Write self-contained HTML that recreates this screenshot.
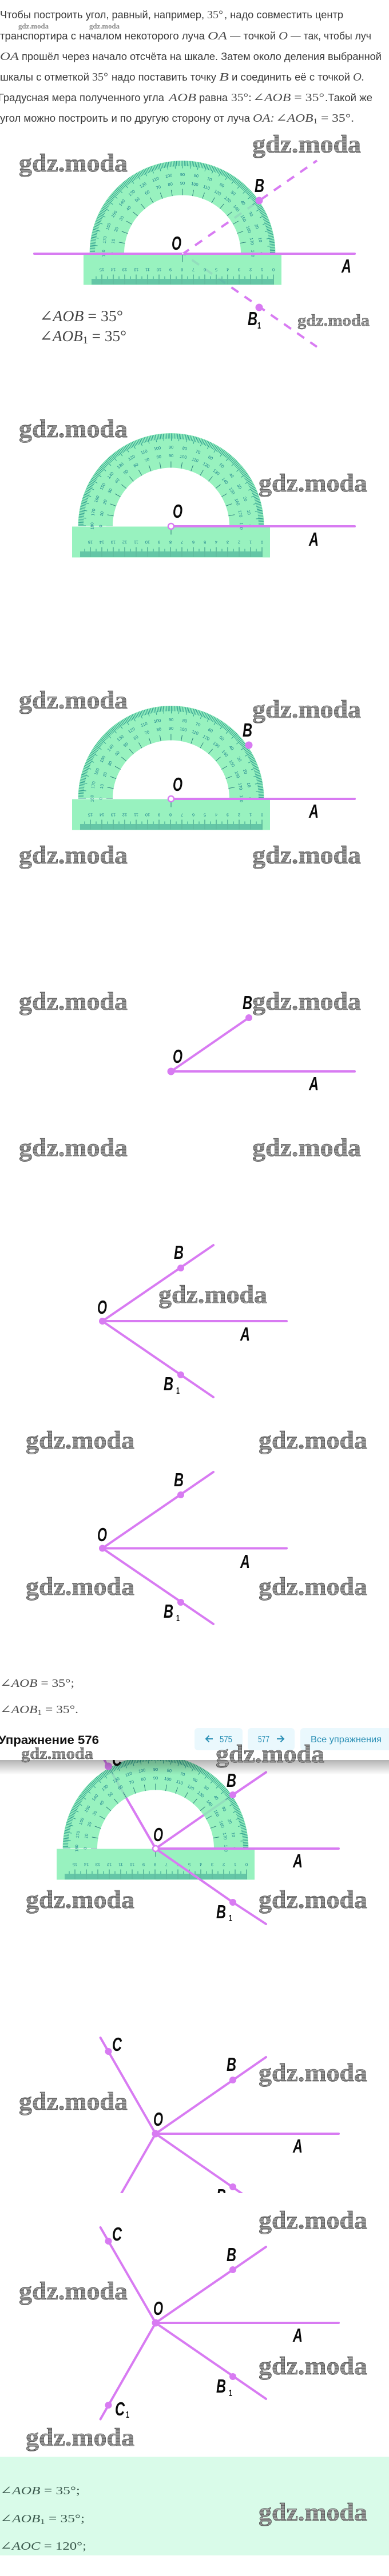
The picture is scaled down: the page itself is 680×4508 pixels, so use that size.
<!DOCTYPE html>
<html lang="ru"><head><meta charset="utf-8"><title>Упражнение 576</title>
<style>
html,body{margin:0;padding:0;background:#fff}
svg{display:block}
.s{font:18px "Liberation Sans","DejaVu Sans",sans-serif;fill:#3a3a3a}
.m{font:20px "Liberation Serif","DejaVu Serif",serif;fill:#4a4a4a}
.e{font:27px "Liberation Serif","DejaVu Serif",serif;fill:#444}
.g{fill:#3c5a4e}
.i{font-style:italic}
.l{font:italic bold 33px "Liberation Sans",sans-serif;fill:#0a0a0a}
.u{font:bold 16px "Liberation Sans",sans-serif;fill:#111}
.w{font:bold 44px "Liberation Serif",serif;fill:url(#h);stroke:#333;stroke-width:.5}
.w2{font:bold 29px "Liberation Serif",serif;fill:url(#h);stroke:#333;stroke-width:.4}
.w3{font:bold 12.5px "Liberation Serif",serif;fill:#8c8c8c}
.n text{font:7.5px "Liberation Sans",sans-serif;fill:#1b7f8c;text-anchor:middle}
.r{stroke:#d87bf2;stroke-width:4;fill:none;stroke-linecap:round}
.d{fill:#d87bf2}
.t{font:16px "Liberation Sans",sans-serif;fill:#2a8fb5}
.a{stroke:#2a8fb5;stroke-width:2;fill:none}
</style></head><body>
<svg xmlns="http://www.w3.org/2000/svg" width="680" height="4508" viewBox="0 0 680 4508">
<defs>
<pattern id="h" width="2" height="1.6" patternUnits="userSpaceOnUse"><rect width="2" height="1.6" fill="#bdbdbd"/><rect width="2" height=".7" fill="#4a4a4a"/></pattern>
<linearGradient id="sh" x1="0" y1="0" x2="0" y2="1"><stop offset="0" stop-color="#000" stop-opacity=".3"/><stop offset="1" stop-color="#000" stop-opacity="0"/></linearGradient>
<clipPath id="c7"><rect x="0" y="3500" width="680" height="338"/></clipPath>
<g id="p">
<path d="M-162.5 0A162.5 162.5 0 0 1 162.5 0L102 0A102 102 0 0 0 -102 0Z" fill="#86f0b4" fill-opacity=".85"/>
<rect x="-173" y="1" width="346" height="54" fill="#86f0b4" fill-opacity=".85"/>
<path d="M-157.5 0A157.5 157.5 0 0 1 157.5 0" pathLength="180" fill="none" stroke="#2e9e8f" stroke-width="9" stroke-dasharray=".38 .62"/>
<path d="M-155.5 0A155.5 155.5 0 0 1 155.5 0" pathLength="180" fill="none" stroke="#2e9e8f" stroke-width="13" stroke-dasharray=".38 4.62"/>
<path d="M-107.5 0A107.5 107.5 0 0 1 107.5 0" pathLength="180" fill="none" stroke="#2a7a7a" stroke-width="11" stroke-dasharray=".5 9.5" stroke-dashoffset=".25"/>
<path d="M159.5 49.5H-159" stroke="#2f9a8e" stroke-width="10" stroke-dasharray="1 1" fill="none"/>
<path d="M159.5 47H-159" stroke="#2f9a8e" stroke-width="14" stroke-dasharray="1 9" fill="none"/>
<path d="M159.5 45.5H-159" stroke="#2a8a80" stroke-width="17" stroke-dasharray="1 19" fill="none"/>
<path d="M0 1V15" stroke="#2a7a7a" stroke-width="1"/>
<g class="n">
<text transform="rotate(90) translate(0,-135.5)">0</text><text transform="rotate(80) translate(0,-135.5)">10</text><text transform="rotate(70) translate(0,-135.5)">20</text><text transform="rotate(60) translate(0,-135.5)">30</text><text transform="rotate(50) translate(0,-135.5)">40</text><text transform="rotate(40) translate(0,-135.5)">50</text><text transform="rotate(30) translate(0,-135.5)">60</text><text transform="rotate(20) translate(0,-135.5)">70</text><text transform="rotate(10) translate(0,-135.5)">80</text><text transform="translate(0,-135.5)">90</text><text transform="rotate(-10) translate(0,-135.5)">100</text><text transform="rotate(-20) translate(0,-135.5)">110</text><text transform="rotate(-30) translate(0,-135.5)">120</text><text transform="rotate(-40) translate(0,-135.5)">130</text><text transform="rotate(-50) translate(0,-135.5)">140</text><text transform="rotate(-60) translate(0,-135.5)">150</text><text transform="rotate(-70) translate(0,-135.5)">160</text><text transform="rotate(-80) translate(0,-135.5)">170</text><text transform="rotate(-90) translate(0,-135.5)">180</text>
<text transform="rotate(90) translate(0,-120.5)">180</text><text transform="rotate(80) translate(0,-120.5)">170</text><text transform="rotate(70) translate(0,-120.5)">160</text><text transform="rotate(60) translate(0,-120.5)">150</text><text transform="rotate(50) translate(0,-120.5)">140</text><text transform="rotate(40) translate(0,-120.5)">130</text><text transform="rotate(30) translate(0,-120.5)">120</text><text transform="rotate(20) translate(0,-120.5)">110</text><text transform="rotate(10) translate(0,-120.5)">100</text><text transform="translate(0,-120.5)">90</text><text transform="rotate(-10) translate(0,-120.5)">80</text><text transform="rotate(-20) translate(0,-120.5)">70</text><text transform="rotate(-30) translate(0,-120.5)">60</text><text transform="rotate(-40) translate(0,-120.5)">50</text><text transform="rotate(-50) translate(0,-120.5)">40</text><text transform="rotate(-60) translate(0,-120.5)">30</text><text transform="rotate(-70) translate(0,-120.5)">20</text><text transform="rotate(-80) translate(0,-120.5)">10</text><text transform="rotate(-90) translate(0,-120.5)">0</text>
<text transform="translate(159,26) rotate(180)">0</text><text transform="translate(139,26) rotate(180)">1</text><text transform="translate(119,26) rotate(180)">2</text><text transform="translate(99,26) rotate(180)">3</text><text transform="translate(79,26) rotate(180)">4</text><text transform="translate(59,26) rotate(180)">5</text><text transform="translate(39,26) rotate(180)">6</text><text transform="translate(19,26) rotate(180)">7</text><text transform="translate(-1,26) rotate(180)">8</text><text transform="translate(-21,26) rotate(180)">9</text><text transform="translate(-41,26) rotate(180)">10</text><text transform="translate(-61,26) rotate(180)">11</text><text transform="translate(-81,26) rotate(180)">12</text><text transform="translate(-101,26) rotate(180)">13</text><text transform="translate(-121,26) rotate(180)">14</text><text transform="translate(-141,26) rotate(180)">15</text>
</g>
</g>
</defs>

<!-- intro text -->
<g lengthAdjust="spacingAndGlyphs">
<text class="s" x="0" y="32" textLength="357" lengthAdjust="spacingAndGlyphs">Чтобы построить угол, равный, например,</text>
<text class="m" x="362" y="32" textLength="28" lengthAdjust="spacingAndGlyphs">35°</text>
<text class="s" x="392" y="32" textLength="208" lengthAdjust="spacingAndGlyphs">, надо совместить центр</text>
<text class="s" x="0" y="69" textLength="358" lengthAdjust="spacingAndGlyphs">транспортира с началом некоторого луча</text>
<text class="m i" x="363" y="69" textLength="34" lengthAdjust="spacingAndGlyphs">OA</text>
<text class="s" x="402" y="69" textLength="80" lengthAdjust="spacingAndGlyphs">— точкой</text>
<text class="m i" x="487" y="69" textLength="16" lengthAdjust="spacingAndGlyphs">O</text>
<text class="s" x="508" y="69" textLength="141" lengthAdjust="spacingAndGlyphs">— так, чтобы луч</text>
<text class="m i" x="0" y="105" textLength="33" lengthAdjust="spacingAndGlyphs">OA</text>
<text class="s" x="38" y="105" textLength="629" lengthAdjust="spacingAndGlyphs">прошёл через начало отсчёта на шкале. Затем около деления выбранной</text>
<text class="s" x="0" y="141" textLength="156" lengthAdjust="spacingAndGlyphs">шкалы с отметкой</text>
<text class="m" x="161" y="141" textLength="28" lengthAdjust="spacingAndGlyphs">35°</text>
<text class="s" x="195" y="141" textLength="183" lengthAdjust="spacingAndGlyphs">надо поставить точку</text>
<text class="m i" x="383" y="141" textLength="17" lengthAdjust="spacingAndGlyphs">B</text>
<text class="s" x="405" y="141" textLength="207" lengthAdjust="spacingAndGlyphs">и соединить её с точкой</text>
<text class="m i" x="617" y="141" textLength="20" lengthAdjust="spacingAndGlyphs">O.</text>
<text class="s" x="-3" y="177" textLength="290" lengthAdjust="spacingAndGlyphs">Градусная мера полученного угла</text>
<text class="m i" x="295" y="177" textLength="48" lengthAdjust="spacingAndGlyphs">AOB</text>
<text class="s" x="348" y="177" textLength="50" lengthAdjust="spacingAndGlyphs">равна</text>
<text class="m" x="404" y="177" textLength="36" lengthAdjust="spacingAndGlyphs">35°:</text>
<text class="m" x="442" y="177" textLength="125" lengthAdjust="spacingAndGlyphs">∠<tspan class="i">AOB</tspan> = 35°</text>
<text class="s" x="568" y="177" textLength="83" lengthAdjust="spacingAndGlyphs">.Такой же</text>
<text class="s" x="0" y="213" textLength="437" lengthAdjust="spacingAndGlyphs">угол можно построить и по другую сторону от луча</text>
<text class="m i" x="442" y="213" textLength="38" lengthAdjust="spacingAndGlyphs">OA:</text>
<text class="m" x="482" y="213" textLength="137" lengthAdjust="spacingAndGlyphs">∠<tspan class="i">AOB</tspan><tspan font-size="13" dy="3">1</tspan><tspan dy="-3"> = 35°.</tspan></text>
</g>

<!-- diagram 1 -->
<path class="r" d="M320 444L554 281" stroke-dasharray="15 13" stroke-dashoffset="2.5" style="stroke-linecap:butt"/>
<path class="r" d="M320 444L554 607" stroke-dasharray="15 13" stroke-dashoffset="-19" style="stroke-linecap:butt"/>
<use href="#p" x="319" y="443.5"/>
<path class="r" d="M60 444H620"/>
<circle class="d" cx="453" cy="351" r="6.5"/><circle class="d" cx="453" cy="538" r="6.5"/>
<circle cx="319.5" cy="444" r="1.2" fill="#fff"/>
<text class="l" x="300" y="437" textLength="17" lengthAdjust="spacingAndGlyphs">O</text>
<text class="l" x="445" y="336" textLength="17" lengthAdjust="spacingAndGlyphs">B</text>
<text class="l" x="597" y="477" textLength="17" lengthAdjust="spacingAndGlyphs">A</text>
<text class="l" x="433" y="569" textLength="17" lengthAdjust="spacingAndGlyphs">B</text>
<text class="u" x="450" y="575" textLength="6" lengthAdjust="spacingAndGlyphs">1</text>
<text class="e" x="69" y="562" textLength="146" lengthAdjust="spacingAndGlyphs">∠<tspan class="i">AOB</tspan> = 35°</text>
<text class="e" x="69" y="597" textLength="152" lengthAdjust="spacingAndGlyphs">∠<tspan class="i">AOB</tspan><tspan font-size="18" dy="4">1</tspan><tspan dy="-4"> = 35°</tspan></text>

<!-- diagram 2 -->
<use href="#p" x="299" y="920.5"/>
<path class="r" d="M299 921H620"/>
<circle cx="299" cy="921" r="5" fill="#fff" stroke="#d87bf2" stroke-width="2.5"/>
<text class="l" x="302" y="906" textLength="17" lengthAdjust="spacingAndGlyphs">O</text>
<text class="l" x="540" y="955" textLength="17" lengthAdjust="spacingAndGlyphs">A</text>

<!-- diagram 3 -->
<use href="#p" x="299" y="1397.5"/>
<path class="r" d="M299 1398H620"/>
<circle cx="299" cy="1398" r="5" fill="#fff" stroke="#d87bf2" stroke-width="2.5"/>
<circle class="d" cx="435" cy="1304" r="6.5"/>
<text class="l" x="424" y="1289" textLength="17" lengthAdjust="spacingAndGlyphs">B</text>
<text class="l" x="302" y="1384" textLength="17" lengthAdjust="spacingAndGlyphs">O</text>
<text class="l" x="540" y="1431" textLength="17" lengthAdjust="spacingAndGlyphs">A</text>

<!-- diagram 4 -->
<path class="r" d="M299 1875H620M299 1875L435 1781"/>
<circle class="d" cx="299" cy="1875" r="6.5"/><circle class="d" cx="435" cy="1781" r="6"/>
<text class="l" x="302" y="1860" textLength="17" lengthAdjust="spacingAndGlyphs">O</text>
<text class="l" x="424" y="1766" textLength="17" lengthAdjust="spacingAndGlyphs">B</text>
<text class="l" x="540" y="1908" textLength="17" lengthAdjust="spacingAndGlyphs">A</text>

<!-- diagram 5 -->
<path class="r" d="M179 2312H501M179 2312L373 2179M179 2312L373 2445"/>
<circle class="d" cx="179" cy="2312" r="6"/><circle class="d" cx="316" cy="2219" r="6"/><circle class="d" cx="316" cy="2406" r="6"/>
<text class="l" x="170" y="2299" textLength="17" lengthAdjust="spacingAndGlyphs">O</text>
<text class="l" x="304" y="2203" textLength="17" lengthAdjust="spacingAndGlyphs">B</text>
<text class="l" x="420" y="2346" textLength="17" lengthAdjust="spacingAndGlyphs">A</text>
<text class="l" x="286" y="2433" textLength="17" lengthAdjust="spacingAndGlyphs">B</text>
<text class="u" x="308" y="2439" textLength="6" lengthAdjust="spacingAndGlyphs">1</text>

<!-- diagram 6 -->
<path class="r" d="M179 2709.5H501M179 2709.5L373 2576M179 2709.5L373 2842"/>
<circle class="d" cx="179" cy="2709.5" r="6"/><circle class="d" cx="316" cy="2616" r="6"/><circle class="d" cx="316" cy="2804" r="6"/>
<text class="l" x="170" y="2697" textLength="17" lengthAdjust="spacingAndGlyphs">O</text>
<text class="l" x="304" y="2601" textLength="17" lengthAdjust="spacingAndGlyphs">B</text>
<text class="l" x="420" y="2744" textLength="17" lengthAdjust="spacingAndGlyphs">A</text>
<text class="l" x="286" y="2831" textLength="17" lengthAdjust="spacingAndGlyphs">B</text>
<text class="u" x="308" y="2837" textLength="6" lengthAdjust="spacingAndGlyphs">1</text>

<text class="m" x="0" y="2952" textLength="130" lengthAdjust="spacingAndGlyphs">∠<tspan class="i">AOB</tspan> = 35°;</text>
<text class="m" x="0" y="2998" textLength="137" lengthAdjust="spacingAndGlyphs">∠<tspan class="i">AOB</tspan><tspan font-size="13" dy="3">1</tspan><tspan dy="-3"> = 35°.</tspan></text>

<!-- diagram protractor with rays -->
<path class="r" d="M272 3235L407 3141L465 3101.5M272 3235L175.6 3068"/>
<use href="#p" x="272" y="3234.5"/>
<path class="r" d="M272 3235H592M272 3235L407 3329L465 3367"/>
<path class="r" d="M272 3235L230 3162M407 3141L465 3101.5" />
<circle cx="272" cy="3235" r="5" fill="#fff" stroke="#d87bf2" stroke-width="2.5"/>
<circle class="d" cx="407" cy="3141" r="6"/><circle class="d" cx="407" cy="3329" r="6"/><circle class="d" cx="189.5" cy="3091" r="6.5"/>
<text class="l" x="268" y="3222" textLength="17" lengthAdjust="spacingAndGlyphs">O</text>
<text class="l" x="396" y="3127" textLength="17" lengthAdjust="spacingAndGlyphs">B</text>
<text class="l" x="512" y="3268" textLength="17" lengthAdjust="spacingAndGlyphs">A</text>
<text class="l" x="378" y="3357" textLength="17" lengthAdjust="spacingAndGlyphs">B</text>
<text class="u" x="400" y="3362" textLength="6" lengthAdjust="spacingAndGlyphs">1</text>
<text class="l" x="196" y="3090" textLength="17" lengthAdjust="spacingAndGlyphs">C</text>

<!-- sticky header -->
<rect x="0" y="3080" width="680" height="26" fill="url(#sh)"/>
<rect x="0" y="3010" width="680" height="70" fill="#fff"/>
<text x="-3" y="3052" font-family="Liberation Sans, sans-serif" font-weight="bold" font-size="21" fill="#111" textLength="176" lengthAdjust="spacingAndGlyphs">Упражнение 576</text>
<rect x="340" y="3024" width="84" height="39" rx="6" fill="#eaf8fd"/>
<rect x="433" y="3024" width="82" height="39" rx="6" fill="#eaf8fd"/>
<rect x="525" y="3024" width="165" height="39" rx="6" fill="#eaf8fd"/>
<path class="a" d="M372 3043H360M365.500 3037.500L360 3043L365.500 3048.500"/>
<text class="t" x="384" y="3049" textLength="22" lengthAdjust="spacingAndGlyphs">575</text>
<text class="t" x="451" y="3049" textLength="20" lengthAdjust="spacingAndGlyphs">577</text>
<path class="a" d="M484 3043H496M490.500 3037.500L496 3043L490.500 3048.500"/>
<text class="t" x="543" y="3049" textLength="124" lengthAdjust="spacingAndGlyphs">Все упражнения</text>

<!-- diagram 7 (clipped) -->
<g clip-path="url(#c7)">
<path class="r" d="M272 3734H592M272 3734L465 3600M272 3734L175.600 3566M272 3734L175.600 3902M272 3734L465 3868"/>
<circle class="d" cx="272" cy="3734" r="6.5"/><circle class="d" cx="407" cy="3640" r="6"/><circle class="d" cx="407" cy="3827" r="6"/><circle class="d" cx="189.500" cy="3590" r="6"/>
<text class="l" x="196" y="3589" textLength="17" lengthAdjust="spacingAndGlyphs">C</text>
<text class="l" x="396" y="3624" textLength="17" lengthAdjust="spacingAndGlyphs">B</text>
<text class="l" x="268" y="3720" textLength="17" lengthAdjust="spacingAndGlyphs">O</text>
<text class="l" x="512" y="3767" textLength="17" lengthAdjust="spacingAndGlyphs">A</text>
<text class="l" x="378" y="3854" textLength="17" lengthAdjust="spacingAndGlyphs">B</text>
</g>

<!-- diagram 8 -->
<path class="r" d="M272 4065H592M272 4065L465 3932M272 4065L465 4198M272 4065L175.600 3898M272 4065L175.600 4233.500"/>
<circle class="d" cx="272" cy="4065" r="6.5"/><circle class="d" cx="407" cy="3972" r="6"/><circle class="d" cx="407" cy="4159" r="6"/><circle class="d" cx="189.500" cy="3922" r="6"/><circle class="d" cx="189.500" cy="4209" r="6"/>
<text class="l" x="196" y="3921" textLength="17" lengthAdjust="spacingAndGlyphs">C</text>
<text class="l" x="396" y="3957" textLength="17" lengthAdjust="spacingAndGlyphs">B</text>
<text class="l" x="268" y="4051" textLength="17" lengthAdjust="spacingAndGlyphs">O</text>
<text class="l" x="512" y="4098" textLength="17" lengthAdjust="spacingAndGlyphs">A</text>
<text class="l" x="378" y="4187" textLength="17" lengthAdjust="spacingAndGlyphs">B</text>
<text class="u" x="400" y="4193" textLength="6" lengthAdjust="spacingAndGlyphs">1</text>
<text class="l" x="201" y="4227" textLength="17" lengthAdjust="spacingAndGlyphs">C</text>
<text class="u" x="220" y="4231" textLength="6" lengthAdjust="spacingAndGlyphs">1</text>

<!-- answer box -->
<rect x="0" y="4299.500" width="680" height="172.500" fill="#d9fbe9"/>
<text class="m g" x="0" y="4365" textLength="140" lengthAdjust="spacingAndGlyphs">∠<tspan class="i">AOB</tspan> = 35°;</text>
<text class="m g" x="0" y="4414" textLength="148" lengthAdjust="spacingAndGlyphs">∠<tspan class="i">AOB</tspan><tspan font-size="13" dy="3">1</tspan><tspan dy="-3"> = 35°;</tspan></text>
<text class="m g" x="0" y="4462" textLength="151" lengthAdjust="spacingAndGlyphs">∠<tspan class="i">AOC</tspan> = 120°;</text>

<!-- watermarks -->
<text class="w3" x="32" y="50" textLength="53" lengthAdjust="spacingAndGlyphs">gdz.moda</text>
<text class="w3" x="156" y="50" textLength="53" lengthAdjust="spacingAndGlyphs">gdz.moda</text>
<text class="w" x="441" y="267" textLength="190" lengthAdjust="spacingAndGlyphs">gdz.moda</text>
<text class="w" x="33" y="300" textLength="190" lengthAdjust="spacingAndGlyphs">gdz.moda</text>
<text class="w2" x="520" y="570" textLength="126" lengthAdjust="spacingAndGlyphs">gdz.moda</text>
<text class="w" x="33" y="765" textLength="190" lengthAdjust="spacingAndGlyphs">gdz.moda</text>
<text class="w" x="452" y="860" textLength="190" lengthAdjust="spacingAndGlyphs">gdz.moda</text>
<text class="w" x="33" y="1240" textLength="190" lengthAdjust="spacingAndGlyphs">gdz.moda</text>
<text class="w" x="441" y="1256" textLength="190" lengthAdjust="spacingAndGlyphs">gdz.moda</text>
<text class="w" x="33" y="1511" textLength="190" lengthAdjust="spacingAndGlyphs">gdz.moda</text>
<text class="w" x="441" y="1511" textLength="190" lengthAdjust="spacingAndGlyphs">gdz.moda</text>
<text class="w" x="33" y="1767" textLength="190" lengthAdjust="spacingAndGlyphs">gdz.moda</text>
<text class="w" x="441" y="1767" textLength="190" lengthAdjust="spacingAndGlyphs">gdz.moda</text>
<text class="w" x="33" y="2023" textLength="190" lengthAdjust="spacingAndGlyphs">gdz.moda</text>
<text class="w" x="441" y="2023" textLength="190" lengthAdjust="spacingAndGlyphs">gdz.moda</text>
<text class="w" x="277" y="2280" textLength="190" lengthAdjust="spacingAndGlyphs">gdz.moda</text>
<text class="w" x="45" y="2535" textLength="190" lengthAdjust="spacingAndGlyphs">gdz.moda</text>
<text class="w" x="452" y="2535" textLength="190" lengthAdjust="spacingAndGlyphs">gdz.moda</text>
<text class="w" x="45" y="2791" textLength="190" lengthAdjust="spacingAndGlyphs">gdz.moda</text>
<text class="w" x="452" y="2791" textLength="190" lengthAdjust="spacingAndGlyphs">gdz.moda</text>
<text class="w2" x="37" y="3078" textLength="126" lengthAdjust="spacingAndGlyphs">gdz.moda</text>
<text class="w" x="377" y="3084" textLength="190" lengthAdjust="spacingAndGlyphs">gdz.moda</text>
<text class="w" x="45" y="3339" textLength="190" lengthAdjust="spacingAndGlyphs">gdz.moda</text>
<text class="w" x="452" y="3339" textLength="190" lengthAdjust="spacingAndGlyphs">gdz.moda</text>
<text class="w" x="452" y="3642" textLength="190" lengthAdjust="spacingAndGlyphs">gdz.moda</text>
<text class="w" x="33" y="3692" textLength="190" lengthAdjust="spacingAndGlyphs">gdz.moda</text>
<text class="w" x="452" y="3900" textLength="190" lengthAdjust="spacingAndGlyphs">gdz.moda</text>
<text class="w" x="33" y="4024" textLength="190" lengthAdjust="spacingAndGlyphs">gdz.moda</text>
<text class="w" x="452" y="4155" textLength="190" lengthAdjust="spacingAndGlyphs">gdz.moda</text>
<text class="w" x="45" y="4280" textLength="190" lengthAdjust="spacingAndGlyphs">gdz.moda</text>
<text class="w" x="452" y="4411" textLength="190" lengthAdjust="spacingAndGlyphs">gdz.moda</text>
</svg>
</body></html>
